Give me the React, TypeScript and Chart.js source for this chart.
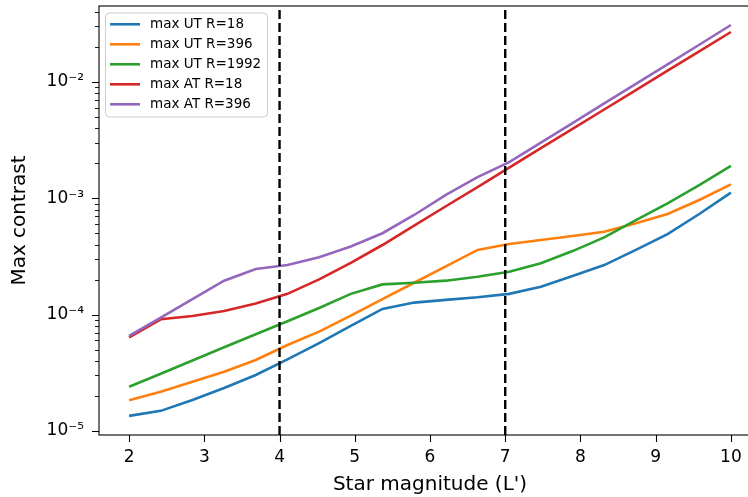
import React, { useEffect, useRef } from "react";
import { Chart, registerables } from "chart.js";

Chart.register(...registerables);

// ---- data ----
const magnitudes = [
  2, 2.421, 2.842, 3.263, 3.684, 4.105, 4.526, 4.947, 5.368, 5.789,
  6.211, 6.632, 7.053, 7.474, 7.895, 8.316, 8.737, 9.158, 9.579, 10,
];

const maxUT_R18 = [
  1.35e-5, 1.49e-5, 1.85e-5, 2.34e-5, 3.03e-5, 4.13e-5, 5.7e-5, 8.0e-5, 1.12e-4, 1.27e-4,
  1.34e-4, 1.41e-4, 1.51e-4, 1.74e-4, 2.15e-4, 2.67e-4, 3.6e-4, 4.93e-4, 7.33e-4, 1.12e-3,
];
const maxUT_R396 = [
  1.84e-5, 2.18e-5, 2.65e-5, 3.23e-5, 4.08e-5, 5.48e-5, 7.14e-5, 9.8e-5, 1.36e-4, 1.88e-4,
  2.6e-4, 3.6e-4, 4.05e-4, 4.38e-4, 4.74e-4, 5.16e-4, 6.1e-4, 7.33e-4, 9.68e-4, 1.32e-3,
];
const maxUT_R1992 = [
  2.4e-5, 3.11e-5, 4.04e-5, 5.24e-5, 6.78e-5, 8.79e-5, 1.14e-4, 1.51e-4, 1.82e-4, 1.88e-4,
  1.96e-4, 2.12e-4, 2.34e-4, 2.77e-4, 3.52e-4, 4.62e-4, 6.51e-4, 9.06e-4, 1.3e-3, 1.9e-3,
];
const maxAT_R18 = [
  6.39e-5, 9.12e-5, 9.74e-5, 1.076e-4, 1.25e-4, 1.51e-4, 2.01e-4, 2.79e-4, 3.97e-4, 5.83e-4,
  8.55e-4, 1.25e-3, 1.84e-3, 2.7e-3, 3.95e-3, 5.8e-3, 8.52e-3, 1.25e-2, 1.83e-2, 2.69e-2,
];
const maxAT_R396 = [
  6.56e-5, 9.44e-5, 1.36e-4, 1.96e-4, 2.47e-4, 2.67e-4, 3.11e-4, 3.85e-4, 5.01e-4, 7.19e-4,
  1.07e-3, 1.52e-3, 2.05e-3, 3.01e-3, 4.43e-3, 6.54e-3, 9.63e-3, 1.42e-2, 2.09e-2, 3.09e-2,
];

const seriesLabels = ["max UT R=18", "max UT R=396", "max UT R=1992", "max AT R=18", "max AT R=396"];
const seriesColors = ["#1f77b4", "#ff7f0e", "#2ca02c", "#d62728", "#9467bd"];
const seriesValues = [maxUT_R18, maxUT_R396, maxUT_R1992, maxAT_R18, maxAT_R396];

const verticalLines = [4, 7];

const xTicks = [2, 3, 4, 5, 6, 7, 8, 9, 10];
const yTickValues = [1e-5, 1e-4, 1e-3, 1e-2];
const yTickLabels = ["10\u207B\u2075", "10\u207B\u2074", "10\u207B\u00B3", "10\u207B\u00B2"];

const X_MIN = 1.6;
const X_MAX = 10.4;
const Y_MIN = 9.24e-6;
const Y_MAX = 0.045;

const FONT = "'DejaVu Sans', sans-serif";

export default function App() {
  const ref = useRef<HTMLCanvasElement>(null);

  useEffect(() => {
    const canvas = ref.current;
    if (!canvas) return;
    const W = 770;
    const H = 497;
    const AREA = { left: 99, top: 6, right: 761, bottom: 435 };

    const lineDatasets = seriesValues.map((vals, i) => ({
      label: seriesLabels[i],
      data: magnitudes.map((m, j) => ({ x: m, y: vals[j] })),
      borderColor: seriesColors[i],
      backgroundColor: seriesColors[i],
      borderWidth: 2.6,
      pointRadius: 0,
      tension: 0,
      fill: false,
      order: seriesValues.length - i,
      inLegend: true,
    }));

    const vDatasets = verticalLines.map((v) => ({
      label: "v" + v,
      data: [
        { x: v, y: Y_MIN },
        { x: v, y: Y_MAX },
      ],
      borderColor: "#000",
      borderWidth: 2.4,
      borderDash: [9, 4],
      pointRadius: 0,
      fill: false,
      order: 0,
      inLegend: false,
    }));

    const axesPlugin = {
      id: "mplAxes",
      afterDatasetsDraw(chart: any) {
        const { ctx, chartArea: a, scales } = chart;
        ctx.save();
        ctx.strokeStyle = "#000";
        ctx.lineWidth = 1.1;
        ctx.strokeRect(a.left, a.top, a.right - a.left, a.bottom - a.top);
        ctx.beginPath();
        for (const v of xTicks) {
          const px = Math.round(scales.x.getPixelForValue(v)) + 0.5;
          ctx.moveTo(px, a.bottom);
          ctx.lineTo(px, a.bottom + 7);
        }
        for (const v of yTickValues) {
          const py = Math.round(scales.y.getPixelForValue(v)) + 0.5;
          ctx.moveTo(a.left, py);
          ctx.lineTo(a.left - 7, py);
        }
        ctx.stroke();
        ctx.beginPath();
        ctx.lineWidth = 0.9;
        for (let e = -6; e <= -1; e++) {
          for (let m = 2; m <= 9; m++) {
            const v = m * Math.pow(10, e);
            if (v < Y_MIN || v > Y_MAX) continue;
            const py = Math.round(scales.y.getPixelForValue(v)) + 0.5;
            ctx.moveTo(a.left, py);
            ctx.lineTo(a.left - 4, py);
          }
        }
        ctx.stroke();
        ctx.restore();
      },
    };

    const legendPlugin = {
      id: "mplLegend",
      afterDraw(chart: any) {
        const { ctx } = chart;
        const items = chart.data.datasets.filter((d: any) => d.inLegend);
        const bx = 105.5;
        const by = 13;
        const bw = 162;
        const bh = 104;
        ctx.save();
        ctx.beginPath();
        const r = 4;
        ctx.moveTo(bx + r, by);
        ctx.lineTo(bx + bw - r, by);
        ctx.arcTo(bx + bw, by, bx + bw, by + r, r);
        ctx.lineTo(bx + bw, by + bh - r);
        ctx.arcTo(bx + bw, by + bh, bx + bw - r, by + bh, r);
        ctx.lineTo(bx + r, by + bh);
        ctx.arcTo(bx, by + bh, bx, by + bh - r, r);
        ctx.lineTo(bx, by + r);
        ctx.arcTo(bx, by, bx + r, by, r);
        ctx.closePath();
        ctx.fillStyle = "rgba(255,255,255,0.8)";
        ctx.fill();
        ctx.strokeStyle = "#cccccc";
        ctx.lineWidth = 1;
        ctx.stroke();
        ctx.font = `13.5px ${FONT}`;
        ctx.textBaseline = "middle";
        ctx.textAlign = "left";
        items.forEach((d: any, i: number) => {
          const cy = 24.3 + i * 20;
          ctx.beginPath();
          ctx.strokeStyle = d.borderColor;
          ctx.lineWidth = 2.6;
          ctx.moveTo(110, cy);
          ctx.lineTo(140, cy);
          ctx.stroke();
          ctx.fillStyle = "#000";
          ctx.fillText(d.label, 150, cy + 0.5);
        });
        ctx.restore();
      },
    };

    const chart = new Chart(canvas, {
      type: "line",
      data: { datasets: [...lineDatasets, ...vDatasets] as any },
      options: {
        responsive: false,
        animation: false,
        devicePixelRatio: 1,
        layout: { padding: { left: 0, top: AREA.top, right: W - AREA.right, bottom: 0 } },
        plugins: { legend: { display: false }, tooltip: { enabled: false } },
        elements: { point: { radius: 0 } },
        scales: {
          x: {
            type: "linear",
            min: X_MIN,
            max: X_MAX,
            grid: { display: false, drawTicks: false },
            border: { display: false },
            afterBuildTicks: (s: any) => {
              s.ticks = xTicks.map((v) => ({ value: v }));
            },
            afterFit: (s: any) => {
              s.height = H - AREA.bottom;
              s.paddingLeft = 0;
              s.paddingRight = 0;
            },
            ticks: {
              padding: 12,
              color: "#000",
              autoSkip: false,
              maxRotation: 0,
              font: { family: FONT, size: 17 },
              callback: (v: any) => String(v),
            },
            title: {
              display: true,
              text: "Star magnitude (L')",
              color: "#000",
              font: { family: FONT, size: 20 },
              padding: { top: 0, bottom: 0 },
            },
          },
          y: {
            type: "logarithmic",
            min: Y_MIN,
            max: Y_MAX,
            grid: { display: false, drawTicks: false },
            border: { display: false },
            afterBuildTicks: (s: any) => {
              s.ticks = yTickValues.map((v) => ({ value: v }));
            },
            afterFit: (s: any) => {
              s.width = AREA.left;
              s.paddingTop = 0;
              s.paddingBottom = 0;
            },
            ticks: {
              padding: 15,
              color: "#000",
              autoSkip: false,
              font: { family: FONT, size: 17 },
              callback: (_v: any, i: number) => yTickLabels[i],
            },
            title: {
              display: true,
              text: "Max contrast",
              color: "#000",
              font: { family: FONT, size: 20 },
              padding: { top: 8, bottom: 0 },
            },
          },
        },
      },
      plugins: [axesPlugin, legendPlugin],
    });

    return () => chart.destroy();
  }, []);

  return (
    <div
      style={{
        position: "fixed",
        left: 0,
        top: 0,
        width: 748,
        height: 497,
        overflow: "hidden",
        background: "#fff",
      }}
    >
      <canvas ref={ref} width={770} height={497} style={{ display: "block" }} />
    </div>
  );
}
